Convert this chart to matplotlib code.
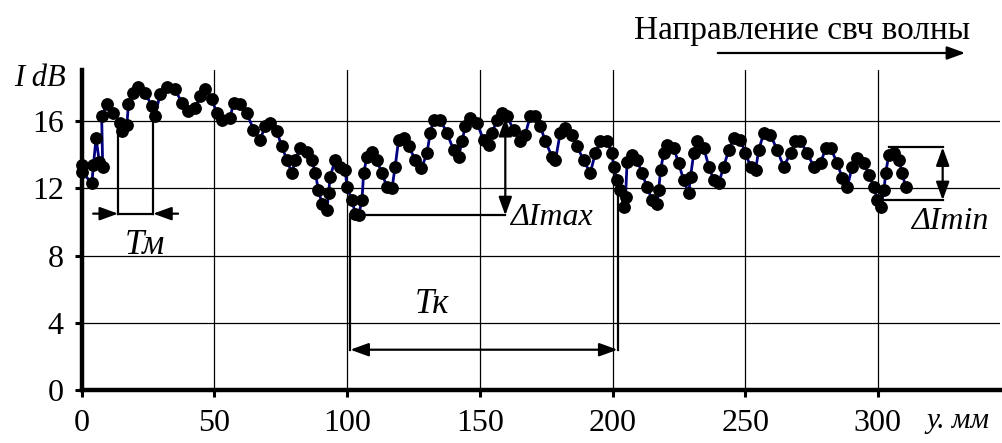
import matplotlib
matplotlib.use("Agg")
import matplotlib.pyplot as plt

plt.rcParams['font.family'] = ['Liberation Serif', 'DejaVu Serif']

# position along the waveguide, mm
y_mm = [0.0, 0.1, 3.8, 4.4, 5.4, 6.6, 7.9, 7.5, 9.4, 11.9, 14.4, 15.1, 17.0, 17.6,
        19.5, 21.3, 23.9, 26.4, 27.6, 29.5, 32.1, 35.2, 37.7, 40.2, 42.7, 44.6,
        46.5, 49.0, 50.9, 52.8, 55.9, 57.2, 59.7, 62.2, 64.7, 67.2, 69.1, 71.0,
        73.5, 75.4, 77.3, 79.2, 80.4, 82.3, 84.8, 86.7, 88.0, 89.2, 90.5, 92.4,
        93.0, 93.6, 95.5, 97.4, 99.3, 99.9, 101.8, 103.1, 104.3, 105.6, 106.2,
        107.5, 109.4, 111.2, 113.1, 115.0, 116.9, 118.1, 119.4, 121.3, 123.2,
        125.7, 128.0, 130.1, 131.3, 132.6, 135.1, 137.6, 140.1, 142.0, 143.3,
        144.5, 146.4, 148.9, 151.4, 153.3, 154.6, 156.5, 158.3, 160.2, 162.7,
        165.3, 167.1, 169.0, 170.9, 172.8, 174.7, 177.2, 178.5, 180.3, 182.2,
        184.7, 186.6, 189.1, 191.6, 193.5, 195.4, 197.9, 199.8, 200.4, 201.7,
        203.0, 204.2, 204.9, 205.5, 207.4, 209.3, 211.1, 213.0, 214.9, 216.8,
        217.4, 218.1, 219.3, 220.6, 223.1, 224.9, 226.8, 228.7, 229.4, 230.6,
        231.9, 234.4, 236.3, 238.1, 240.0, 241.9, 243.8, 245.7, 248.2, 250.1,
        252.0, 253.9, 255.1, 257.0, 259.5, 262.0, 264.5, 267.1, 268.9, 270.8,
        273.4, 275.8, 278.4, 280.3, 282.2, 284.7, 286.6, 288.5, 290.3, 292.2,
        294.7, 296.6, 298.5, 299.8, 301.0, 302.3, 302.9, 304.1, 306.0, 307.9,
        309.2, 310.4]
# intensity, dB
i_db = [13.4, 13.0, 12.3, 13.4, 15.0, 13.6, 13.3, 16.3, 17.0, 16.5, 15.9, 15.4,
        15.8, 17.0, 17.7, 18.05, 17.7, 16.9, 16.3, 17.6, 18.05, 17.9, 17.1, 16.6,
        16.8, 17.5, 17.9, 17.3, 16.5, 16.1, 16.2, 17.1, 17.0, 16.5, 15.5, 14.9,
        15.7, 15.9, 15.4, 14.5, 13.7, 12.9, 13.7, 14.4, 14.2, 13.7, 12.9, 11.9,
        11.1, 10.7, 11.7, 12.7, 13.7, 13.3, 13.1, 12.1, 11.3, 10.5, 10.4, 11.3,
        12.9, 13.9, 14.2, 13.7, 12.9, 12.1, 12.0, 13.3, 14.9, 15.0, 14.5, 13.7,
        13.2, 14.1, 15.3, 16.1, 16.1, 15.3, 14.3, 13.9, 14.8, 15.7, 16.2, 15.9,
        14.9, 14.6, 15.3, 16.1, 16.5, 16.3, 15.5, 14.8, 15.2, 16.3, 16.3, 15.7,
        14.8, 13.9, 13.7, 15.3, 15.6, 15.2, 14.5, 13.7, 12.9, 14.1, 14.8, 14.8,
        14.1, 13.3, 12.5, 11.9, 10.9, 11.5, 13.6, 14.0, 13.7, 12.9, 12.1, 11.3,
        11.1, 11.9, 13.1, 14.1, 14.6, 14.4, 13.5, 12.5, 11.7, 12.7, 14.1, 14.8,
        14.4, 13.3, 12.5, 12.3, 13.3, 14.3, 15.0, 14.9, 14.1, 13.3, 13.1, 14.3,
        15.3, 15.2, 14.3, 13.3, 14.1, 14.8, 14.8, 14.1, 13.3, 13.5, 14.4, 14.4,
        13.5, 12.6, 12.1, 13.3, 13.8, 13.5, 12.8, 12.1, 11.3, 10.9, 11.9, 12.9,
        14.0, 14.1, 13.7, 12.9, 12.1]

x_ticks = [0, 50, 100, 150, 200, 250, 300]
y_ticks = [0, 4, 8, 12, 16]

fig = plt.figure(figsize=(10.03, 4.43), dpi=100)
ax = fig.add_axes([0.0815, 0.1196, 0.9155, 0.7223])

ax.plot(y_mm, i_db, color='#000080', lw=2.0, marker='o', ms=8.2,
        mfc='black', mec='black', zorder=3, clip_on=False)

ax.set_xlim(0, 346)
ax.set_ylim(0, 19.05)
ax.set_xticks(x_ticks)
ax.set_yticks(y_ticks)
ax.grid(True, color='black', lw=0.9)
ax.set_axisbelow(True)
for s in ['top', 'right']:
    ax.spines[s].set_visible(False)
for s in ['left', 'bottom']:
    ax.spines[s].set_linewidth(3.2)
ax.tick_params(axis='both', direction='out', length=5, width=2.2,
               labelsize=23, pad=8)
ax.tick_params(axis='x', pad=9)


def arrow(x0, y0, x1, y1, style='-|>'):
    ax.annotate('', xy=(x1, y1), xytext=(x0, y0), annotation_clip=False,
                arrowprops=dict(arrowstyle=style + ',head_length=0.55,head_width=0.2',
                                color='black', lw=1.6, shrinkA=0, shrinkB=0,
                                mutation_scale=20))


def line(xs, ys):
    ax.plot(xs, ys, color='black', lw=1.6, zorder=4)


# Tм - period of small oscillations
line([13.7, 13.7], [10.5, 15.8])
line([26.9, 26.9], [10.5, 16.2])
line([13.7, 26.9], [10.5, 10.5])
arrow(4.3, 10.5, 13.7, 10.5)
arrow(36.3, 10.5, 26.9, 10.5)
ax.text(23.9, 8.6, 'Тм', fontsize=25, style='italic', ha='center', va='center')

# Tк - period of large oscillations
line([101.2, 101.2], [2.4, 10.4])
line([201.9, 201.9], [2.4, 12.2])
arrow(101.2, 2.4, 201.9, 2.4, '<|-|>')
ax.text(132.1, 5.1, 'Тк', fontsize=25, style='italic', ha='center', va='center')

# ΔImax
line([101.9, 159.6], [10.4, 10.4])
arrow(159.6, 10.4, 159.6, 16.2, '<|-|>')
ax.text(161.3, 10.3, 'ΔImax', fontsize=23, style='italic', ha='left', va='center')

# ΔImin
line([304.0, 324.4], [14.45, 14.45])
line([301.0, 324.4], [11.3, 11.3])
arrow(324.4, 11.3, 324.4, 14.45, '<|-|>')
fig.text(0.947, 0.499, 'ΔImin', fontsize=23, style='italic', ha='center', va='center')

fig.text(0.040, 0.822, 'I dB', fontsize=22, style='italic', ha='center', va='center')
fig.text(0.955, 0.050, 'y. мм', fontsize=21, style='italic', ha='center', va='center')

fig.text(0.7996, 0.930, 'Направление свч волны', fontsize=24, ha='center', va='center')
fig.patches.append(matplotlib.patches.FancyArrowPatch(
    (715 / 1003, 1 - 53 / 443), (968 / 1003, 1 - 53 / 443),
    transform=fig.transFigure, arrowstyle='-|>,head_length=0.55,head_width=0.2',
    mutation_scale=20, color='black', lw=1.6))

fig.savefig('out.png', dpi=100)
